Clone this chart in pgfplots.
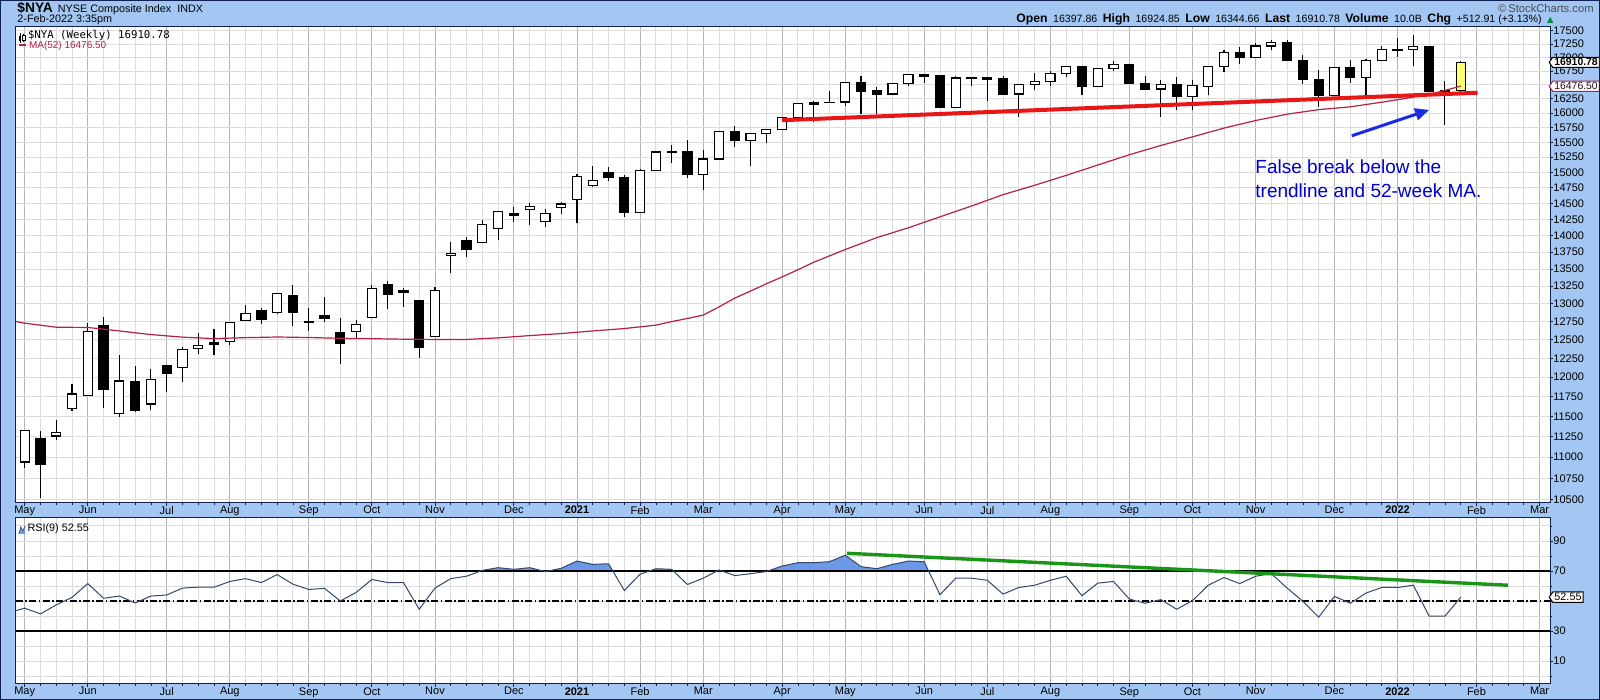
\documentclass[border=0pt]{standalone}
\usepackage{pgfplots}
\pgfplotsset{compat=1.18}
\usepackage{pgfplotstable}
\usetikzlibrary{arrows.meta,shapes.symbols}
\usepackage{fontspec}
\setmainfont{Liberation Sans}
\newfontfamily\legmono{DejaVu Sans Mono}
\newfontfamily\dejavu{DejaVu Sans}

\definecolor{bgblue}{RGB}{163,199,242}
\definecolor{navy}{RGB}{16,32,80}
\definecolor{gridl}{RGB}{220,220,220}
\definecolor{gridm}{RGB}{180,180,180}
\definecolor{macol}{RGB}{178,34,68}
\definecolor{trendred}{RGB}{232,22,22}
\definecolor{trendgreen}{RGB}{24,150,24}
\definecolor{rsiline}{RGB}{52,72,110}
\definecolor{rsifill}{RGB}{108,152,232}
\definecolor{arrowblue}{RGB}{24,44,230}
\definecolor{textblue}{RGB}{0,0,205}
\definecolor{candleyellow}{RGB}{255,255,110}
\definecolor{upgreen}{RGB}{0,140,60}

\pgfplotstableread{
i o h l c t
0 10941 11330 10870 11323 1
1 11219 11316 10526 10912 0
2 11256 11452 11208 11304 1
3 11603 11915 11561 11782 1
4 11760 12728 11751 12618 1
5 12700 12811 11598 11841 0
6 11535 12292 11497 11950 1
7 11937 12150 11548 11573 0
8 11654 12110 11573 11966 1
9 12159 12165 11805 12053 0
10 12132 12400 11932 12372 1
11 12385 12589 12313 12426 1
12 12457 12653 12287 12434 0
13 12480 12745 12434 12741 1
14 12768 12985 12768 12868 1
15 12910 12938 12714 12778 0
16 12882 13151 12853 13141 1
17 13112 13270 12694 12877 0
18 12745 12938 12622 12735 0
19 12840 13098 12745 12792 0
20 12594 12802 12172 12448 0
21 12618 12774 12521 12714 1
22 12806 13273 12792 13219 1
23 13270 13324 12928 13137 0
24 13190 13223 12960 13162 0
25 13041 13045 12260 12393 0
26 12545 13244 12536 13190 1
27 13696 13902 13440 13736 1
28 13922 13978 13671 13796 0
29 13896 14245 13896 14166 1
30 14116 14380 13937 14376 1
31 14344 14450 14216 14308 0
32 14410 14503 14166 14445 1
33 14216 14420 14140 14344 1
34 14440 14525 14333 14492 1
35 14568 14975 14197 14938 1
36 14790 15102 14760 14860 1
37 14992 15080 14853 14915 0
38 14922 14959 14290 14354 0
39 14360 15062 14355 15036 1
40 15036 15340 15030 15335 1
41 15330 15456 15152 15340 1
42 15335 15541 14905 14964 0
43 14970 15372 14720 15219 1
44 15219 15690 15197 15688 1
45 15688 15770 15412 15530 0
46 15530 15660 15100 15655 1
47 15655 15725 15490 15722 1
48 15722 15930 15720 15923 1
49 15923 16170 15905 16164 1
50 16176 16216 15846 16160 0
51 16186 16395 16180 16190 0
52 16193 16555 16115 16550 1
53 16550 16663 15980 16383 0
54 16395 16454 15980 16336 0
55 16336 16540 16330 16532 1
56 16532 16690 16484 16681 1
57 16681 16693 16532 16651 0
58 16663 16665 16095 16098 0
59 16105 16651 16100 16622 1
60 16640 16645 16472 16622 0
61 16640 16645 16204 16604 0
62 16610 16663 16312 16324 0
63 16336 16520 15923 16514 1
64 16514 16711 16400 16561 1
65 16561 16753 16472 16699 1
66 16711 16835 16633 16833 1
67 16833 16840 16312 16472 0
68 16472 16805 16470 16803 1
69 16803 16926 16753 16877 1
70 16877 16880 16520 16525 0
71 16532 16651 16415 16419 0
72 16426 16591 15933 16514 1
73 16514 16633 16045 16295 0
74 16295 16591 16045 16484 1
75 16472 16835 16324 16833 1
76 16833 17130 16741 17087 1
77 17087 17192 16886 16996 0
78 16996 17272 16990 17211 1
79 17211 17333 17130 17272 1
80 17272 17333 16930 16935 0
81 16935 17048 16514 16591 0
82 16591 16770 16098 16312 0
83 16312 16825 16305 16821 1
84 16821 16957 16532 16633 0
85 16633 16970 16312 16948 1
86 16948 17211 16945 17141 1
87 17135 17373 17015 17145 1
88 17141 17424 16847 17200 1
89 17200 17205 16380 16383 0
90 16383 16561 15798 16398 1
91 16397.86 16924.85 16344.66 16910.78 2
}\ohlc

\pgfplotstableread{
i v
-0.55 12750
0 12727
2 12671
4 12668
6 12620
8 12570
10 12535
12 12515
14 12528
16 12537
18 12530
20 12519
22 12514
24 12507
26 12503
28 12503
30 12525
32 12556
34 12584
36 12620
38 12653
40 12700
41 12749
42 12792
43 12840
44 12955
45 13080
46 13180
47 13285
48 13385
49 13489
50 13600
52 13790
54 13970
56 14120
58 14290
60 14460
62 14640
64 14790
66 14950
68 15120
70 15290
72 15445
74 15590
76 15740
78 15870
80 15980
82 16060
84 16110
86 16190
88 16280
89 16330
90 16400
91 16476.5
}\madata

\pgfplotstableread{
i v
-0.55 43.6
0 45.2
1 41.4
2 47.4
3 52.4
4 61.6
5 51.8
6 53.3
7 48.7
8 53.3
9 54.0
10 58.6
11 59.2
12 59.2
13 63.0
14 64.9
15 62.3
16 67.6
17 61.2
18 57.7
19 58.4
20 50.0
21 55.7
22 64.3
23 62.3
24 62.3
25 44.5
26 58.6
27 64.9
28 66.5
29 70.4
30 72.2
31 71.1
32 72.2
33 69.6
34 71.8
35 76.6
36 74.4
37 74.8
38 57.0
39 67.8
40 71.5
41 71.1
42 61.0
43 65.2
44 70.7
45 66.9
46 68.2
47 69.6
48 73.3
49 75.5
50 75.5
51 76.2
52 80.5
53 72.9
54 71.5
55 74.4
56 76.6
57 76.2
58 54.2
59 65.2
60 65.2
61 63.8
62 54.6
63 59.0
64 60.5
65 63.8
66 66.5
67 53.5
68 61.9
69 63.0
70 51.3
71 48.5
72 50.9
73 44.5
74 50.2
75 60.5
76 65.6
77 61.6
78 66.5
79 68.2
80 58.6
81 49.8
82 39.2
83 53.1
84 48.5
85 55.3
86 59.0
87 59.0
88 60.5
89 39.9
90 39.9
91 52.55
}\rsidata

\pgfplotsset{
  candlewick/.style={black, line width=0.55pt, mark=none},
  candlebody/.style={draw=black, line width=0.55pt, mark=none},
  chartaxis/.style={
    scale only axis, width=767pt,
    xmin=-0.55, xmax=96.66,
    axis background/.style={fill=white},
    axis line style={navy, line width=0.5pt},
    xtick={0,4,9,13,18,22,26,31,35,39,43,48,52,57,61,65,70,74,78,83,87,92,96},
    xticklabels={May,Jun,Jul,Aug,Sep,Oct,Nov,Dec,\textbf{2021},Feb,Mar,Apr,May,Jun,Jul,Aug,Sep,Oct,Nov,Dec,\textbf{2022},Feb,Mar},
    minor xtick={0,1,...,96},
    xmajorgrids, xminorgrids, yminorgrids,
    major grid style={gridm, line width=0.45pt},
    minor grid style={gridl, line width=0.45pt},
    tick align=outside, xtick pos=left, ytick pos=right, yticklabel pos=right,
    major tick length=1.5pt, minor tick length=1pt,
    tick style={navy, line width=0.4pt},
    tick label style={font=\fontsize{5.5}{6}\selectfont, inner sep=0pt},
    yticklabel style={anchor=west},
    /pgf/number format/assume math mode=true,
  }
}

\newcommand{\hb}[1]{{\fontsize{6.1}{7}\selectfont\bfseries #1}}
\newcommand{\hn}[1]{{\fontsize{5.3}{6}\selectfont #1}}

\begin{document}
\begin{tikzpicture}
% blue frame with holes for the two plot areas (they are drawn by the axes)
\fill[bgblue, even odd rule] (0,0) rectangle (800pt,350pt)
  (8pt,98.5pt) rectangle (775pt,336.5pt)
  (8pt,8pt) rectangle (775pt,91pt);

% ---------------- main price panel ----------------
\begin{axis}[chartaxis, at={(8pt,98.5pt)}, anchor=south west, height=238pt,
  ymode=log, ymin=10465, ymax=17576,
  ytick={10500,10750,11000,11250,11500,11750,12000,12250,12500,12750,13000,13250,13500,13750,14000,14250,14500,14750,15000,15250,15500,15750,16000,16250,16750,17000,17250,17500},
  yticklabels={10500,10750,11000,11250,11500,11750,12000,12250,12500,12750,13000,13250,13500,13750,14000,14250,14500,14750,15000,15250,15500,15750,16000,16250,16750,17000,17250,17500},
  minor ytick={10500,10750,11000,11250,11500,11750,12000,12250,12500,12750,13000,13250,13500,13750,14000,14250,14500,14750,15000,15250,15500,15750,16000,16250,16500,16750,17000,17250,17500},
]
\pgfplotsforeachungrouped \k in {0,...,91}{%
  \pgfplotstablegetelem{\k}{i}\of\ohlc \let\cxI\pgfplotsretval
  \pgfplotstablegetelem{\k}{o}\of\ohlc \let\cxO\pgfplotsretval
  \pgfplotstablegetelem{\k}{h}\of\ohlc \let\cxH\pgfplotsretval
  \pgfplotstablegetelem{\k}{l}\of\ohlc \let\cxL\pgfplotsretval
  \pgfplotstablegetelem{\k}{c}\of\ohlc \let\cxC\pgfplotsretval
  \pgfplotstablegetelem{\k}{t}\of\ohlc \let\cxT\pgfplotsretval
  \pgfmathsetmacro\cxXl{\cxI-0.29}%
  \pgfmathsetmacro\cxXr{\cxI+0.29}%
  \ifcase\cxT\relax\def\cxF{black}\or\def\cxF{white}\else\def\cxF{candleyellow}\fi
  \edef\candlecmd{%
    \noexpand\addplot[candlewick] coordinates {(\cxI,\cxL) (\cxI,\cxH)};%
    \noexpand\addplot[candlebody, fill=\cxF] coordinates {(\cxXl,\cxO) (\cxXr,\cxO) (\cxXr,\cxC) (\cxXl,\cxC)} -- cycle;%
  }%
  \candlecmd
}
\addplot[macol, line width=0.6pt, mark=none] table[x=i,y=v]{\madata};
\addplot[trendred, line width=2pt, mark=none] coordinates {(48,15876) (92.07,16359)};
\draw[arrowblue, line width=1.5pt, -{Triangle[length=7pt,width=6pt]}] (axis cs:84.1,15610) -- (axis cs:89.0,16055);
\end{axis}

% ---------------- RSI panel ----------------
\begin{axis}[chartaxis, at={(8pt,8pt)}, anchor=south west, height=83pt,
  ymin=-5.3, ymax=105.3,
  ytick={10,30,70,90}, minor ytick={0,10,...,100},
]
\begin{scope}
\clip (axis cs:-0.55,70) rectangle (axis cs:96.66,105.3);
\addplot[fill=rsifill, draw=none, mark=none] table[x=i,y=v]{\rsidata} \closedcycle;
\end{scope}
\addplot[black, line width=0.55pt, mark=none] coordinates {(-0.55,70) (96.66,70)};
\addplot[black, line width=0.55pt, mark=none] coordinates {(-0.55,30) (96.66,30)};
\addplot[black, line width=0.55pt, mark=none, dash pattern=on 3.5pt off 1.2pt on 0.8pt off 1.2pt] coordinates {(-0.55,50) (96.66,50)};
\addplot[rsiline, line width=0.5pt, mark=none] table[x=i,y=v]{\rsidata};
\addplot[trendgreen, line width=1.7pt, mark=none] coordinates {(52.1,81.8) (94.0,60.5)};
\end{axis}

% ---------------- header ----------------
\node[anchor=base west, inner sep=0] at (8.5pt,343.6pt) {{\fontsize{6.9}{7}\selectfont\bfseries \$NYA}\hspace{2.5pt}{\fontsize{5.4}{6}\selectfont NYSE Composite Index\hspace{3pt}INDX}};
\node[anchor=base west, inner sep=0] at (8.5pt,338.9pt) {\fontsize{5.4}{6}\selectfont 2-Feb-2022 3:35pm};
\node[anchor=base east, inner sep=0] at (797pt,343.8pt) {\fontsize{5.6}{6}\selectfont\color{black!70}©\,StockCharts.com};
\node[anchor=base east, inner sep=0] at (777pt,338.9pt) {\hb{Open} \hn{16397.86} \hb{High} \hn{16924.85} \hb{Low} \hn{16344.66} \hb{Last} \hn{16910.78} \hb{Volume} \hn{10.0B} \hb{Chg} \hn{+512.91 (+3.13\%)} {\dejavu\fontsize{4.2}{5}\selectfont\color{upgreen}▲}};

% ---------------- legends ----------------
\draw[black, line width=0.35pt] (10pt,328.6pt) -- (10pt,333.4pt);
\fill[black] (9.4pt,329.6pt) rectangle (10.6pt,332.2pt);
\draw[black, line width=0.35pt] (11.9pt,329pt) -- (11.9pt,333pt);
\draw[black, line width=0.35pt, fill=white] (11.3pt,330pt) rectangle (12.5pt,332.4pt);
\node[anchor=base west, inner sep=0] at (13.8pt,330.8pt) {\legmono\fontsize{5.35}{6}\selectfont \$NYA (Weekly) 16910.78};
\draw[macol, line width=1.1pt] (9.5pt,327.6pt) -- (13pt,327.6pt);
\node[anchor=base west, inner sep=0] at (14.3pt,325.9pt) {\fontsize{5}{6}\selectfont\color{macol}MA(52) 16476.50};

\fill[rsifill] (9.4pt,83pt) -- (10.4pt,86.6pt) -- (11.4pt,84.6pt) -- (12.6pt,87.2pt) -- (12.6pt,83pt) -- cycle;
\draw[rsiline, line width=0.3pt] (9.4pt,83pt) -- (10.4pt,86.6pt) -- (11.4pt,84.6pt) -- (12.6pt,87.2pt);
\node[anchor=base west, inner sep=0] at (13.6pt,84.4pt) {\fontsize{5.4}{6}\selectfont RSI(9) 52.55};

% ---------------- annotation ----------------
\node[anchor=base west, inner sep=0, text=textblue] at (627.5pt,263pt) {\fontsize{9.5}{11}\selectfont False break below the};
\node[anchor=base west, inner sep=0, text=textblue] at (627.5pt,251.2pt) {\fontsize{9.5}{11}\selectfont trendline and 52-week MA.};

% ---------------- value tags ----------------
\node[signal, signal to=west, signal pointer angle=110, draw=black, line width=0.5pt, fill=white, inner xsep=0.8pt, inner ysep=0.7pt, anchor=west, font=\fontsize{5.2}{6}\selectfont\bfseries] at (774.3pt,318.8pt) {16910.78};
\node[signal, signal to=west, signal pointer angle=110, draw=macol, line width=0.5pt, fill=white, inner xsep=0.8pt, inner ysep=0.7pt, anchor=west, font=\fontsize{5.2}{6}\selectfont, text=black!75!macol] at (774.3pt,306.85pt) {16476.50};
\node[signal, signal to=west, signal pointer angle=110, draw=black, line width=0.5pt, fill=white, inner xsep=0.8pt, inner ysep=0.7pt, anchor=west, font=\fontsize{5.4}{6}\selectfont] at (774.3pt,51.4pt) {52.55};

\draw[navy, line width=0.6pt] (0.3pt,0.3pt) rectangle (799.7pt,349.7pt);
\pgfresetboundingbox
\path[use as bounding box] (0,0) rectangle (800pt,350pt);
\end{tikzpicture}
\end{document}
